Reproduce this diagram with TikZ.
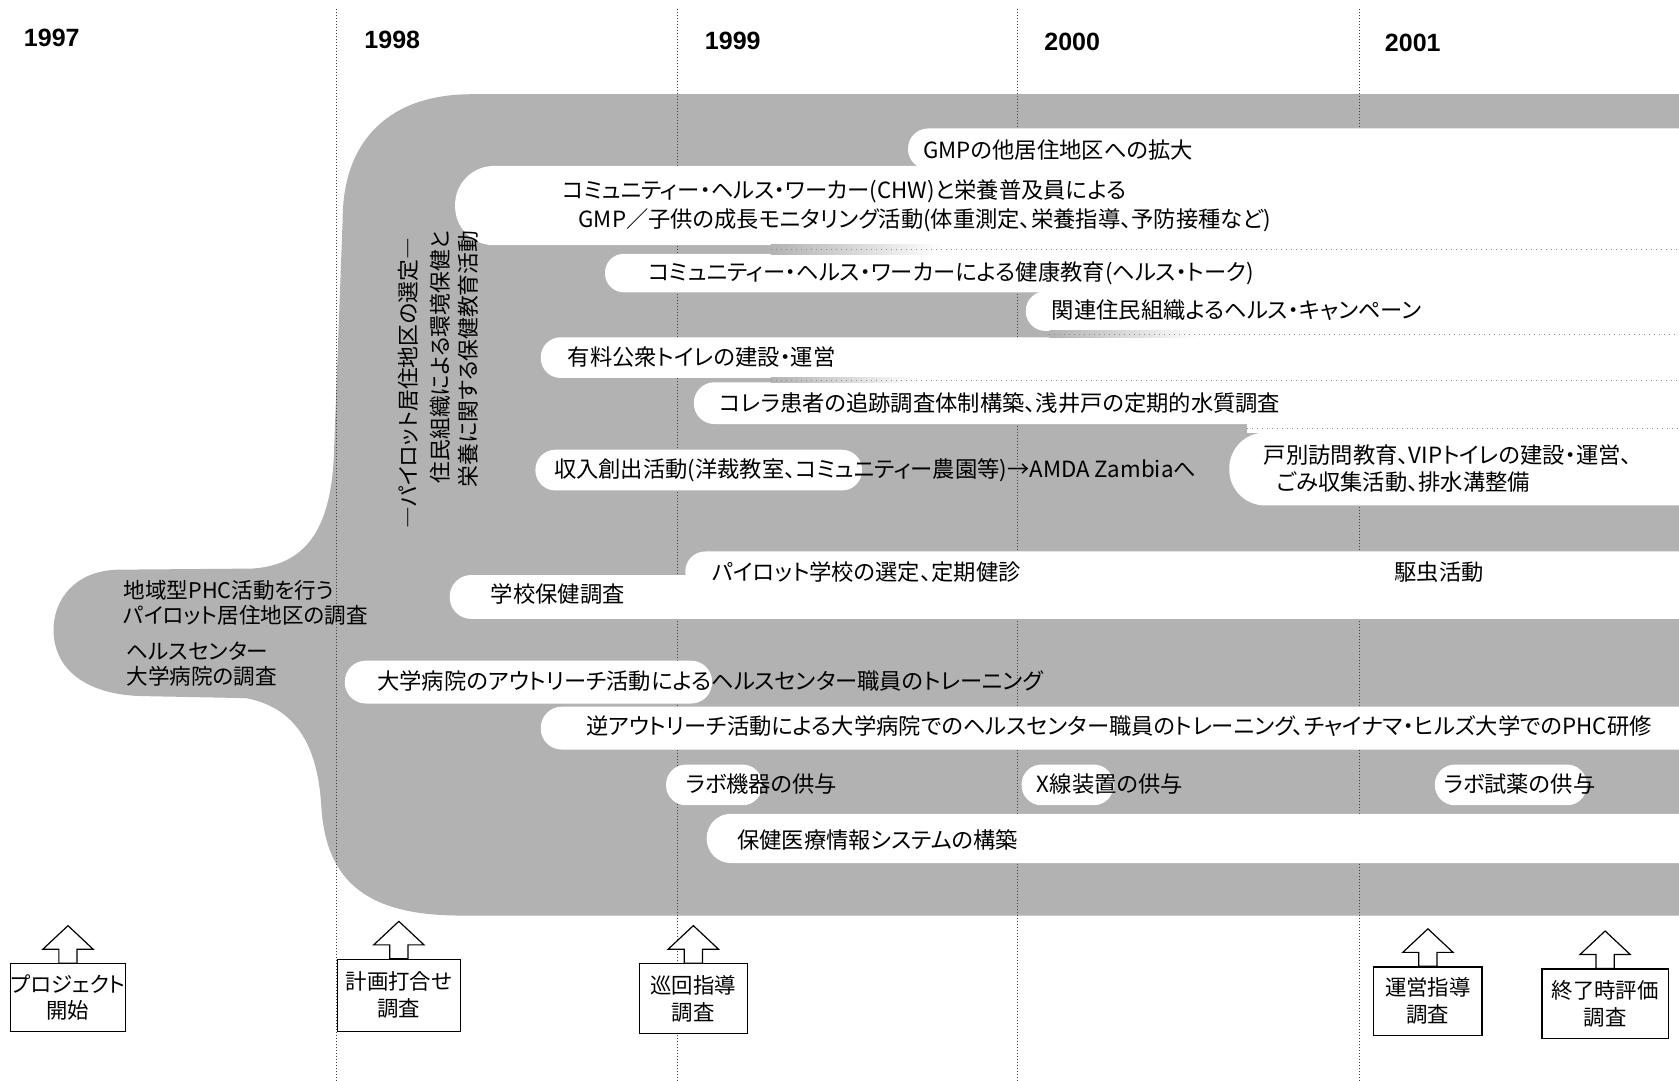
\documentclass[tikz,border=0pt]{standalone}
\usepackage{fontspec}
\setmainfont{Noto Sans CJK JP}[RawFeature=+palt]
\newfontfamily\yearfont{Liberation Sans}
\usetikzlibrary{calc}
\colorlet{bandgray}{black!30}
\newcommand\lanefill[3]{%
  \pgfmathsetmacro\lanerad{(#3-#2)*0.5354*0.49}%
  \fill[lane, rounded corners=\lanerad pt] (#1,#2) rectangle (1660,#3);}
\newcommand\pillfill[4]{%
  \pgfmathsetmacro\lanerad{(#4-#3)*0.5354*0.49}%
  \fill[lane, rounded corners=\lanerad pt] (#1,#3) rectangle (#2,#4);}
% fading separator: x-start of fade, x-end of fade, ytop, ybot
\newcommand\sepfade[4]{%
  \shade[left color=bandgray, right color=white] (#1,#3) rectangle (#2,#4);
  \fill[white] (#2,#3) rectangle (1600,#4);
  \draw[sepline] (#1,{(#3+#4)/2}) -- (1568,{(#3+#4)/2});}
\tikzset{
  blob/.style={fill=bandgray},
  lane/.style={fill=white},
  yearline/.style={densely dotted, line width=0.5pt, black!75},
  sepline/.style={dotted, line width=0.5pt, black!45},
  year/.style={font=\yearfont\bfseries\fontsize{12.5}{14}\selectfont, anchor=west, inner sep=0pt},
  txt/.style={font=\fontsize{11.15}{13}\selectfont, anchor=west, inner sep=0pt},
  stxt/.style={font=\fontsize{10.8}{13}\selectfont, anchor=west, inner sep=0pt},
  vtxt/.style={font=\fontsize{10.9}{13}\selectfont, rotate=90, anchor=east, inner sep=0pt},
  box/.style={draw, line width=0.6pt, fill=white, align=center, inner sep=0pt,
    font=\fontsize{10.7}{13.4}\selectfont},
  blockarrow/.style={draw, line width=0.6pt, fill=white, line join=miter},
}
\begin{document}
\begin{tikzpicture}[x=0.5354pt, y=-0.5354pt]
\useasboundingbox (0,0) rectangle (1568,1009);
\clip (0,0) rectangle (1568,1009);

% gray band
\fill[blob] (1600,88) -- (440,88) .. controls (365,88) and (320,130) .. (320,205)
  -- (312,420) .. controls (310,495) and (285,528) .. (235,531)
  -- (110,532) .. controls (70,533) and (50,560) .. (50,588)
  .. controls (50,625) and (80,648) .. (130,650)
  -- (230,652) .. controls (282,662) and (297,705) .. (300,752)
  .. controls (304,825) and (345,855) .. (430,855) -- (1600,855) -- cycle;

% year lines
\draw[yearline] (314,8) -- (314,1009);
\draw[yearline] (633,8) -- (633,1009);
\draw[yearline] (950,8) -- (950,1009);
\draw[yearline] (1270,8) -- (1270,1009);

% white lanes
\lanefill{848}{120}{158}
\lanefill{425}{155}{229}
\lanefill{565}{237}{273}
\lanefill{958}{272}{309}
\lanefill{505}{315}{353}
\lanefill{648}{357}{396}
\pillfill{500}{805}{420}{458}
\lanefill{1148}{404}{472}
\lanefill{640}{515}{553}
\lanefill{420}{537}{578}
\pillfill{322}{665}{617}{657}
\lanefill{505}{660}{700}
\pillfill{622}{712}{714}{752}
\pillfill{954}{1040}{714}{752}
\pillfill{1340}{1482}{714}{752}
\lanefill{660}{760}{806}

% faint separators on the right
\sepfade{720}{880}{228.5}{237.5}
\sepfade{980}{1120}{308.5}{315.5}
\sepfade{720}{860}{352.5}{357.5}
\fill[white] (1165,395.5) rectangle (1600,404.5);
\draw[sepline] (1165,400) -- (1568,400);

% years
\node[year] (y97) at (22,35) {1997};
\node[year] (y98) at (340,37) {1998};
\node[year] (y99) at (658,38) {1999};
\node[year] (y00) at (975,39) {2000};
\node[year] (y01) at (1293,40) {2001};

% lane texts
\node[txt] (t1) at (862,140) {GMPの他居住地区への拡大};
\node[txt] (t2a) at (525,179) {コミュニティー・ヘルス・ワーカー(CHW)と栄養普及員による};
\node[txt] (t2b) at (540,206) {GMP／子供の成長モニタリング活動(体重測定、栄養指導、予防接種など)};
\node[txt] (t3) at (605,255) {コミュニティー・ヘルス・ワーカーによる健康教育(ヘルス・トーク)};
\node[txt] (t4) at (982,290) {関連住民組織よるヘルス・キャンペーン};
\node[txt] (t5) at (530,333) {有料公衆トイレの建設・運営};
\node[txt] (t6) at (672,376) {コレラ患者の追跡調査体制構築、浅井戸の定期的水質調査};
\node[txt] (t7) at (517,439) {収入創出活動(洋裁教室、コミュニティー農園等)→AMDA Zambiaへ};
\node[txt] (t8a) at (1180,425) {戸別訪問教育、VIPトイレの建設・運営、};
\node[txt] (t8b) at (1192,450) {ごみ収集活動、排水溝整備};
\node[txt] (t9) at (665,534) {パイロット学校の選定、定期健診};
\node[txt] (t9b) at (1302,534) {駆虫活動};
\node[txt] (t10) at (458,555) {学校保健調査};
\node[stxt] (s1) at (115,551) {地域型PHC活動を行う};
\node[stxt] (s2) at (115,575) {パイロット居住地区の調査};
\node[stxt] (s3) at (118,608) {ヘルスセンター};
\node[stxt] (s4) at (118,632) {大学病院の調査};
\node[txt] (t11) at (352,636) {大学病院のアウトリーチ活動によるヘルスセンター職員のトレーニング};
\node[txt] (t12) at (547,678) {逆アウトリーチ活動による大学病院でのヘルスセンター職員のトレーニング、チャイナマ・ヒルズ大学でのPHC研修};
\node[txt] (t13a) at (640,732) {ラボ機器の供与};
\node[txt] (t13b) at (968,732) {X線装置の供与};
\node[txt] (t13c) at (1348,732) {ラボ試薬の供与};
\node[txt] (t14) at (688,784) {保健医療情報システムの構築};

% vertical texts
\node[vtxt] (v1) at (381,222) {―パイロット居住地区の選定―};
\node[vtxt] (v2) at (411,215) {住民組織による環境保健と};
\node[vtxt] (v3) at (437,215) {栄養に関する保健教育活動};

% missions
\node[box, minimum width=57.3pt, minimum height=33.7pt] (b1) at (63.5,931.5) {プロジェクト\\開始};
\node[box, minimum width=61.6pt, minimum height=35.9pt] (b2) at (372.5,929.5) {計画打合せ\\調査};
\node[box, minimum width=54.1pt, minimum height=34.8pt] (b3) at (647.5,932.5) {巡回指導\\調査};
\node[box, minimum width=54.1pt, minimum height=34.3pt] (b4) at (1333.5,935) {運営指導\\調査};
\node[box, minimum width=63.2pt, minimum height=34.8pt] (b5) at (1499,937.5) {終了時評価\\調査};

\foreach \b in {b1,b2,b3,b4,b5}{
  \begin{scope}[shift={(\b.north)}]
    \draw[blockarrow] (-8.5,0) -- (-8.5,-13) -- (-23.5,-13) -- (0,-35) -- (23.5,-13) -- (8.5,-13) -- (8.5,0) -- cycle;
  \end{scope}
}
\end{tikzpicture}
\end{document}
